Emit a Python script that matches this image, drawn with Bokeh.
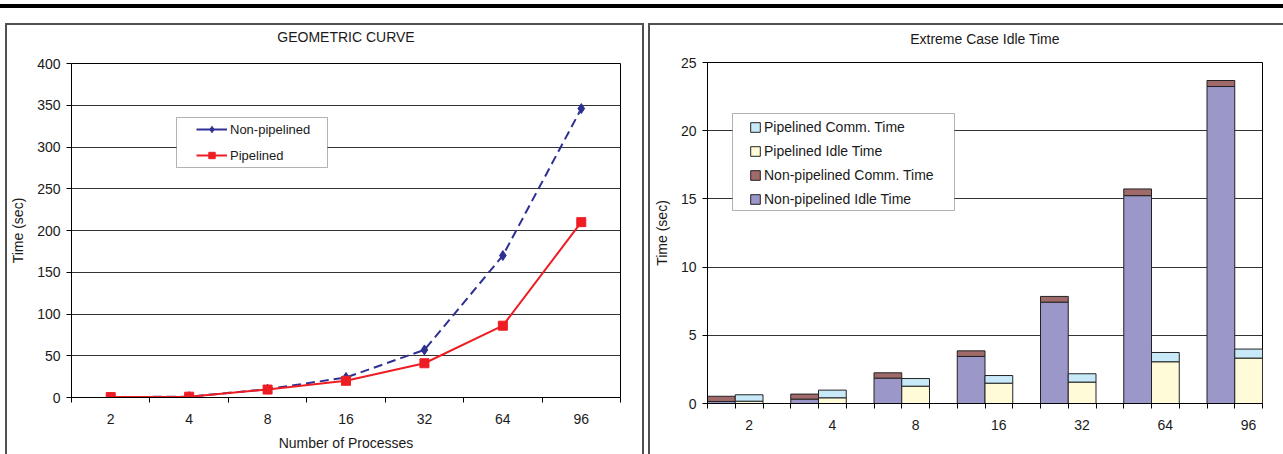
import numpy as np
from bokeh.plotting import figure
from bokeh.layouts import row, column
from bokeh.models import (Range1d, FixedTicker, SingleIntervalTicker, Legend, LegendItem,
                          BoxAnnotation, ColumnDataSource, Div, LinearAxis)
from bokeh.embed import file_html
from bokeh.resources import INLINE

FONT = "Liberation Sans"

# ---------------- data ----------------
procs = ["2", "4", "8", "16", "32", "64", "96"]

# left chart: GEOMETRIC CURVE (Time in sec)
non_pipelined = [0.5, 1.0, 10.0, 24.0, 57.0, 170.0, 346.0]
pipelined = [0.5, 1.0, 9.5, 20.0, 41.0, 86.0, 210.0]

# right chart: Extreme Case Idle Time (sec)
np_idle = [0.15, 0.32, 1.86, 3.45, 7.43, 15.24, 23.24]
np_comm = [0.38, 0.37, 0.39, 0.41, 0.42, 0.49, 0.44]
p_idle = [0.17, 0.42, 1.27, 1.49, 1.57, 3.06, 3.33]
p_comm = [0.47, 0.56, 0.56, 0.56, 0.61, 0.68, 0.66]

# ---------------- styles ----------------
BLUE = "#2E3192"
RED = "#EE1D23"
PURPLE = "#9B97C9"
BROWN = "#A06A6A"
CYAN = "#C8EAF8"
YELLOW = "#FFFAD8"
TXT = "#1a1a1a"
PANEL = "2px solid #505050"


def base_axes(p):
    p.xgrid.visible = False
    p.ygrid.grid_line_color = "#333333"
    p.ygrid.grid_line_width = 1
    p.outline_line_color = "black"
    p.outline_line_width = 1
    p.background_fill_color = "white"
    p.border_fill_color = "white"
    xa, ya = p.xaxis[0], p.yaxis[0]
    for ax in (xa, ya):
        ax.axis_line_color = "black"
        ax.major_label_text_font = FONT
        ax.major_label_text_font_size = "14px"
        ax.major_label_text_color = TXT
        ax.axis_label_text_font = FONT
        ax.axis_label_text_font_size = "14px"
        ax.axis_label_text_font_style = "normal"
        ax.axis_label_text_color = TXT
    ya.major_tick_out = 5
    ya.major_tick_in = 0
    ya.minor_tick_out = 0
    ya.minor_tick_in = 0
    ya.major_tick_line_color = "black"
    ya.major_label_standoff = 6
    ya.axis_label_standoff = 8
    xa.major_tick_out = 0
    xa.major_tick_in = 0
    xa.minor_tick_out = 5
    xa.minor_tick_in = 0
    xa.minor_tick_line_color = "black"
    xa.major_label_standoff = 11
    return xa, ya


def add_title(p, text, standoff):
    # chart title drawn as the label of a tick-less axis above the plot area
    ax = LinearAxis(ticker=FixedTicker(ticks=[]), axis_label=text,
                    axis_line_alpha=0, major_tick_out=0, major_tick_in=0,
                    minor_tick_out=0, minor_tick_in=0, major_label_standoff=0,
                    axis_label_standoff=standoff, axis_label_text_font=FONT,
                    axis_label_text_font_size="14px", axis_label_text_font_style="normal",
                    axis_label_text_color=TXT)
    p.add_layout(ax, "above")


def canvas_box(p, l, r, t, b, **kw):
    p.add_layout(BoxAnnotation(left=l, right=r, top=t, bottom=b,
                               left_units="canvas", right_units="canvas",
                               top_units="canvas", bottom_units="canvas",
                               level="overlay", **kw))


# ---------------- left chart ----------------
idx = np.arange(len(procs))
left = figure(frame_width=549, frame_height=334,
              min_border_left=62, min_border_right=22,
              min_border_top=38, min_border_bottom=57,
              x_range=Range1d(-0.5, len(procs) - 0.5), y_range=Range1d(0, 400),
              output_backend="svg", toolbar_location=None)
lx, ly = base_axes(left)
ly.ticker = SingleIntervalTicker(interval=50)
lx.ticker = FixedTicker(ticks=list(idx.astype(float)),
                        minor_ticks=[i - 0.5 for i in range(len(procs) + 1)])
lx.major_label_overrides = {float(i): lab for i, lab in enumerate(procs)}
ly.axis_label = "Time (sec)"
lx.axis_label = "Number of Processes"
lx.axis_label_standoff = 8

src_l = ColumnDataSource(dict(x=idx, npl=non_pipelined, pl=pipelined))
left.line("x", "npl", source=src_l, line_color=BLUE, line_width=2, line_dash="9 5")
sn = left.scatter("x", "npl", source=src_l, marker="diamond", size=10, color=BLUE)
lp = left.line("x", "pl", source=src_l, line_color=RED, line_width=2)
sp = left.scatter("x", "pl", source=src_l, marker="square", size=9, color=RED)
# solid proxy line used only for the legend swatch (hidden in the plot)
proxy = left.line("x", "npl", source=src_l, line_color=BLUE, line_width=2, visible=False)

canvas_box(left, 169, 320, 92, 142, fill_color="white", fill_alpha=1,
           line_color="black", line_width=1)
leg_l = Legend(items=[LegendItem(label="Non-pipelined", renderers=[proxy, sn]),
                      LegendItem(label="Pipelined", renderers=[lp, sp])],
               location=(119, 228), margin=0, padding=6, spacing=10,
               glyph_width=31, glyph_height=16, label_height=16, label_standoff=3,
               label_text_font=FONT, label_text_font_size="13px", label_text_color=TXT,
               border_line_alpha=0, background_fill_alpha=0, inactive_fill_alpha=0)
left.add_layout(leg_l)
add_title(left, "GEOMETRIC CURVE", 19)

# ---------------- right chart ----------------
ncat = len(procs)
right = figure(frame_width=555, frame_height=341,
               min_border_left=54, min_border_right=21,
               min_border_top=37, min_border_bottom=51,
               x_range=Range1d(0, ncat - 1 + 2 / 3), y_range=Range1d(0, 25),
               output_backend="svg", toolbar_location=None)
rx, ry = base_axes(right)
ry.ticker = SingleIntervalTicker(interval=5)
rx.ticker = FixedTicker(ticks=[i + 0.5 for i in range(ncat)],
                        minor_ticks=[k / 3 for k in range(3 * (ncat - 1) + 3)])
rx.major_label_overrides = {i + 0.5: lab for i, lab in enumerate(procs)}
ry.axis_label = "Time (sec)"

src_r = ColumnDataSource(dict(xn=idx + 1 / 6, xp=idx + 0.5,
                              np_idle=np_idle, np_comm=np_comm,
                              p_idle=p_idle, p_comm=p_comm))
r_np = right.vbar_stack(["np_idle", "np_comm"], x="xn", width=1 / 3, source=src_r,
                        fill_color=[PURPLE, BROWN], line_color="#222222", line_width=1)
r_p = right.vbar_stack(["p_idle", "p_comm"], x="xp", width=1 / 3, source=src_r,
                       fill_color=[YELLOW, CYAN], line_color="#222222", line_width=1)

canvas_box(right, 82, 304, 88, 185, fill_color="white", fill_alpha=1,
           line_color="black", line_width=1)
leg_r = Legend(items=[LegendItem(label="Pipelined Comm. Time", renderers=[r_p[1]]),
                      LegendItem(label="Pipelined Idle Time", renderers=[r_p[0]]),
                      LegendItem(label="Non-pipelined Comm. Time", renderers=[r_np[1]]),
                      LegendItem(label="Non-pipelined Idle Time", renderers=[r_np[0]])],
               location=(36, 190), margin=0, padding=6, spacing=8,
               glyph_width=12, glyph_height=12, label_height=16, label_standoff=3,
               label_text_font=FONT, label_text_font_size="14px", label_text_color=TXT,
               border_line_alpha=0, background_fill_alpha=0)
right.add_layout(leg_r)
add_title(right, "Extreme Case Idle Time", 16)

top_rule = Div(text="", width=1283, height=4, margin=(4, 0, 0, 0),
               styles={"background-color": "black"})

left_panel = column(left, margin=(15, 0, 0, 5),
                    styles={"border-top": PANEL, "border-left": PANEL, "border-right": PANEL})
right_panel = column(right, margin=(15, 0, 0, 4),
                     styles={"border-top": PANEL, "border-left": PANEL})

layout = column(top_rule, row(left_panel, right_panel))
open("out.html", "w").write(file_html(layout, INLINE))
